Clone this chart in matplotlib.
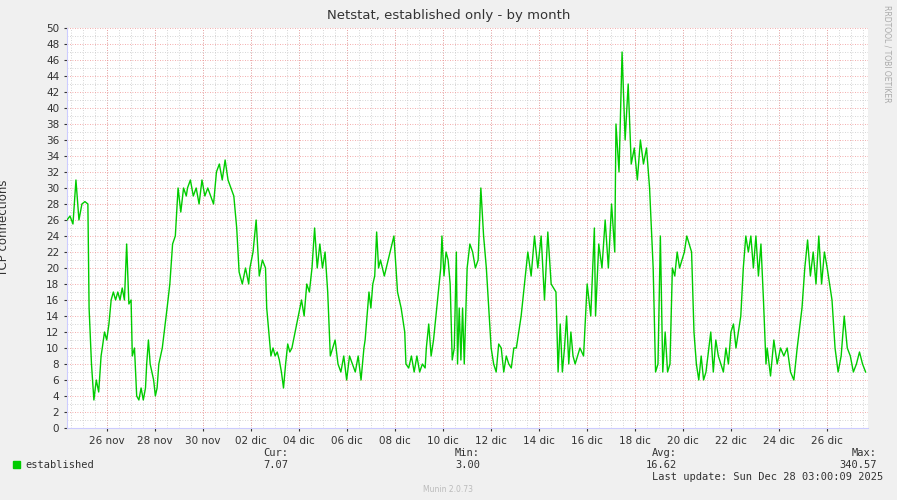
import numpy as np
import matplotlib
matplotlib.use("Agg")
import matplotlib.pyplot as plt

# segments: (start_day, end_day, values); day numbering: Nov days, Dec = 30 + day
segments = [
    (24.33, 25.2, [26, 26.5, 25.5, 31, 26, 28, 28.3, 28]),
    (25.25, 25.75, [15, 8, 3.5, 6, 4.5, 9]),
    (25.8, 27.0, [10, 12, 11, 13, 16, 17, 16, 17, 16, 17.5, 16, 23, 15.5, 16]),
    (27.05, 27.6, [9, 10, 4, 3.5, 5, 3.5, 5]),
    (27.65, 28.3, [8, 11, 8, 7, 6, 4, 5, 8, 9, 10]),
    (28.5, 29.3, [15, 18, 23, 24, 30, 27, 30, 29]),
    (29.35, 31.4, [30, 31, 29, 30, 28, 31, 29, 30, 29, 28, 32, 33, 31, 33.5, 31, 30, 29, 25]),
    (31.5, 31.9, [19.5, 18, 20, 18]),
    (31.95, 32.6, [20, 22, 26, 19, 21, 20]),
    (32.65, 33.7, [15, 12, 9, 10, 9, 9.5, 8.5, 7, 5, 8, 10.5, 9.5, 10]),
    (34.1, 35.3, [16, 14, 18, 17, 20, 25, 20, 23, 20, 22, 17, 9]),
    (35.5, 36.7, [11, 8, 7, 9, 6, 9, 8, 7, 9, 6, 10]),
    (36.75, 37.55, [11, 14, 17, 15, 18, 19, 24.5, 20, 21, 20, 19]),
    (37.95, 38.4, [24, 17, 15, 12]),
    (38.45, 39.25, [8, 7.5, 9, 7, 9, 7, 8, 7.5]),
    (39.3, 39.9, [10, 13, 9, 11, 14, 17, 20]),
    (39.95, 40.55, [24, 19, 22, 21, 18, 8.5, 10, 22]),
    (40.6, 40.95, [8, 15, 8.5, 15, 8, 15]),
    (41.0, 41.8, [20, 23, 22, 20, 21, 30, 24, 20]),
    (42.0, 43.05, [10, 8, 7, 10.5, 10, 7, 9, 8, 7.5, 10, 10]),
    (43.25, 44.5, [14, 18, 22, 19, 24, 20, 24, 16, 24.5, 18]),
    (44.7, 45.5, [17, 7, 13, 7, 10, 14, 8, 12, 9, 8]),
    (45.7, 46.3, [10, 9, 18, 14, 25]),
    (46.35, 47.15, [14, 23, 20, 26, 20, 28, 22]),
    (47.2, 48.6, [38, 32, 47, 36, 43, 33, 35, 31, 36, 33, 35, 30]),
    (48.75, 50.15, [20, 7, 8, 24, 7, 12, 7, 8, 20, 19, 22, 20, 21, 22, 24]),
    (50.35, 50.95, [22, 12, 8, 6, 9, 6, 7]),
    (51.15, 52.2, [12, 7, 11, 9, 8, 7, 10, 8, 12, 13, 10]),
    (52.4, 53.45, [14, 20, 24, 22, 24, 20, 24, 19, 23, 16, 8]),
    (53.5, 54.75, [10, 6.5, 11, 8, 10, 9, 10, 7, 6, 10]),
    (54.95, 56.0, [15, 20, 23.5, 19, 22, 18, 24, 18, 22, 20]),
    (56.2, 57.6, [16, 10, 7, 9, 14, 10, 9, 7, 8, 9.5, 8, 7]),
]
tick_days = [26, 28, 30, 32, 34, 36, 38, 40, 42, 44, 46, 48, 50, 52, 54, 56]
tick_labels = ["26 nov", "28 nov", "30 nov", "02 dic", "04 dic", "06 dic", "08 dic",
               "10 dic", "12 dic", "14 dic", "16 dic", "18 dic", "20 dic", "22 dic",
               "24 dic", "26 dic"]

t, v = [], []
for a, b, vals in segments:
    t.extend(np.linspace(a, b, len(vals)))
    v.extend(vals)
t = np.array(t); v = np.array(v)

fig = plt.figure(figsize=(8.97, 5.0), dpi=100, facecolor="#F0F0F0")
ax = fig.add_axes([67/897, 72/500, 801/897, 400/500])
ax.set_facecolor("white")
x0, x1 = 24.33, 57.7
ax.set_xlim(x0, x1); ax.set_ylim(0, 50)

for d in np.arange(24.5, 57.7, 0.5):
    ax.axvline(d, color="#C8C8C8", lw=0.6, ls=(0, (1, 2)), zorder=0)
for d in tick_days:
    ax.axvline(d, color="#F09090", lw=0.6, ls=(0, (1, 2)), zorder=0)
for y in range(1, 50, 2):
    ax.axhline(y, color="#C8C8C8", lw=0.6, ls=(0, (1, 2)), zorder=0)
for y in range(2, 51, 2):
    ax.axhline(y, color="#F09090", lw=0.6, ls=(0, (1, 2)), zorder=0)

ax.plot(t, v, color="#00CC00", lw=1.0, zorder=3)

ax.set_xticks(tick_days)
ax.set_xticklabels(tick_labels)
ax.set_yticks(range(0, 51, 2))
ax.tick_params(labelsize=7.5, colors="#333333", length=2)
for s in ["top", "right"]:
    ax.spines[s].set_visible(False)
ax.spines["left"].set_color("#CCCCFF")
ax.spines["bottom"].set_color("#CCCCFF")
ax.set_ylabel("TCP connections", fontsize=8.5, color="#333333")
ax.yaxis.set_label_coords(-57/801, 0.5)

fig.text(0.5, 481/500, "Netstat, established only - by month", ha="center", fontsize=9.5, color="#333333")
fig.text(0.989, 0.99, "RRDTOOL / TOBI OETIKER", rotation=270, ha="center", va="top", fontsize=5.5, color="#AAAAAA")
mono = "DejaVu Sans Mono"
fig.patches.append(plt.Rectangle((13/897, 32/500), 7/897, 7/500, color="#00CC00", transform=fig.transFigure))
fig.text(25/897, 35/500, "established", fontsize=7.5, family=mono, va="center", color="#333333")
for xr, lab, val in [(288, "Cur:", "7.07"), (480, "Min:", "3.00"), (677, "Avg:", "16.62"), (877, "Max:", "340.57")]:
    fig.text(xr/897, 47/500, lab, fontsize=7.5, family=mono, ha="right", va="center", color="#333333")
    fig.text(xr/897, 35/500, val, fontsize=7.5, family=mono, ha="right", va="center", color="#333333")
fig.text(883/897, 23/500, "Last update: Sun Dec 28 03:00:09 2025", fontsize=7.5, family=mono, ha="right", va="center", color="#333333")
fig.text(448/897, 10/500, "Munin 2.0.73", fontsize=5.5, ha="center", va="center", color="#BBBBBB")
fig.savefig("out.png", dpi=100, facecolor=fig.get_facecolor())
